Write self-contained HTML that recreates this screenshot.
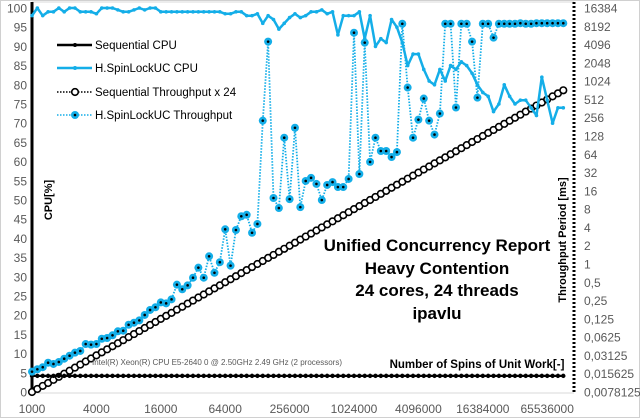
<!DOCTYPE html>
<html><head><meta charset="utf-8"><style>
html,body{margin:0;padding:0;background:#fff}
svg{display:block;font-family:"Liberation Sans",sans-serif}
</style></head><body>
<svg id="chart" width="640" height="418" viewBox="0 0 640 418">
<rect x="0.5" y="0.5" width="639" height="417" fill="#fff" stroke="#d0d0d0"/>
<line x1="32" y1="2" x2="574" y2="2" stroke="#d9d9d9"/>
<g id="axes"></g>
<g id="series"></g>
<g id="texts">
<text x="437" y="251" text-anchor="middle" font-size="17" font-weight="bold">Unified Concurrency Report</text>
<text x="437" y="274" text-anchor="middle" font-size="17" font-weight="bold">Heavy Contention</text>
<text x="437" y="296" text-anchor="middle" font-size="17" font-weight="bold">24 cores, 24 threads</text>
<text x="437" y="319" text-anchor="middle" font-size="17" font-weight="bold">ipavlu</text>
<text x="477" y="368" text-anchor="middle" font-size="11.5" font-weight="bold">Number of Spins of Unit Work[-]</text>
<text x="92" y="365" font-size="8" fill="#595959">Intel(R) Xeon(R) CPU E5-2640 0 @ 2.50GHz   2.49 GHz  (2 processors)</text>
<text transform="translate(52,200) rotate(-90)" text-anchor="middle" font-size="11" font-weight="bold">CPU[%]</text>
<text transform="translate(566,240) rotate(-90)" text-anchor="middle" font-size="11" font-weight="bold">Throughput Period [ms]</text>
</g>
<g id="legend"></g>
</svg>
<script>
const spins=[1000,1122,1260,1414,1587,1782,2000,2245,2520,2828,3175,3564,4000,4490,5040,5657,6350,7127,8000,8980,10079,11314,12699,14254,16000,17959,20159,22627,25398,28509,32000,35919,40318,45255,50797,57018,64000,71838,80635,90510,101594,114035,128000,143675,161270,181019,203187,228070,256000,287350,322540,362039,406375,456140,512000,574701,645080,724077,812749,912280,1024000,1149401,1290160,1448155,1625498,1824560,2048000,2298802,2580320,2896309,3250997,3649121,4096000,4597605,5160641,5792619,6501994,7298242,8192000,9195209,10321281,11585237,13003988,14596484,16384000,18390419,20642562,23170475,26007976,29192967,32768000,36780838,41285124,46340950,52015952,58385935,65536000,73561675,82570249,92681900];
const seqCpu=[4.2,4.2,4.2,4.2,4.2,4.2,4.2,4.2,4.2,4.2,4.2,4.2,4.2,4.2,4.2,4.2,4.2,4.2,4.2,4.2,4.2,4.2,4.2,4.2,4.2,4.2,4.2,4.2,4.2,4.2,4.2,4.2,4.2,4.2,4.2,4.2,4.2,4.2,4.2,4.2,4.2,4.2,4.2,4.2,4.2,4.2,4.2,4.2,4.2,4.2,4.2,4.2,4.2,4.2,4.2,4.2,4.2,4.2,4.2,4.2,4.2,4.2,4.2,4.2,4.2,4.2,4.2,4.2,4.2,4.2,4.2,4.2,4.2,4.2,4.2,4.2,4.2,4.2,4.2,4.2,4.2,4.2,4.2,4.2,4.2,4.2,4.2,4.2,4.2,4.2,4.2,4.2,4.2,4.2,4.2,4.2,4.2,4.2,4.2,4.2];
const spinCpu=[98,100,98,99,99,100,99,100,100,99,99,99,98.5,100,100,100,99.5,99,99,99.5,100,99.5,100,100,99,99,99,99,99,99,99,99,99,99,99,99,98.5,98.5,99,99,98,98,98.5,96,98,97,94.5,96,97.5,98.5,97.5,98,99,99,99.5,98.5,99,93,98,98,98,99,92,98,90,92,91,97,95,91,85,88,88,84,81,80,84,81,85,84,86,85,83,80,78,77,73,75,80,77,75,76,76,74,72,82,76,70,74,74];
const seqThr=[.00781,.00877,.00984,.0110,.0124,.0139,.0156,.0175,.0197,.0221,.0248,.0278,.0313,.0351,.0394,.0442,.0496,.0557,.0625,.0702,.0787,.0884,.0992,.111,.125,.140,.157,.177,.198,.223,.25,.281,.315,.354,.397,.445,.5,.561,.630,.707,.794,.891,1,1.12,1.26,1.41,1.59,1.78,2,2.24,2.52,2.83,3.17,3.56,4,4.49,5.04,5.66,6.35,7.13,8,8.98,10.1,11.3,12.7,14.3,16,18.0,20.2,22.6,25.4,28.5,32,35.9,40.3,45.3,50.8,57.0,64,71.8,80.6,90.5,102,114,128,144,161,181,203,228,256,287,323,362,406,456,512,575,645,724];
const spinThr=[.0169,.0185,.0200,.0237,.0226,.0244,.0276,.0309,.0347,.0370,.0481,.0470,.0481,.0588,.0605,.0670,.0780,.0798,.100,.108,.118,.145,.175,.194,.233,.225,.262,.457,.384,.445,.595,.871,.595,1.34,.717,1.07,3.73,.940,3.63,6.11,6.46,3.27,4.56,229,4580,12.2,8.34,120,11.7,175,8.64,23.3,26.2,20.8,11.3,20.0,22.3,18.5,18.5,25.1,6420,30.3,4410,47.9,120,72.5,72.5,57.7,69.6,9020,803,120,238,530,229,135,300,9020,9020,377,9020,9020,4580,548,9020,9020,5320,9020,9020,9020,9020,9200,9020,9020,9200,9200,9200,9200,9200,9200];
const leftTicks=[0,5,10,15,20,25,30,35,40,45,50,55,60,65,70,75,80,85,90,95,100];
const rightTicks=["0,0078125","0,015625","0,03125","0,0625","0,125","0,25","0,5","1","2","4","8","16","32","64","128","256","512","1024","2048","4096","8192","16384"];
const xTicks=["1000","4000","16000","64000","256000","1024000","4096000","16384000","65536000"];
const xTickVals=[1000,4000,16000,64000,256000,1024000,4096000,16384000,65536000];

const NS="http://www.w3.org/2000/svg";
const X0=32,PXD=32.2,Y0=392,Y1=8;
function xs(v){return X0+Math.log2(v/1000)*PXD;}
function yl(v){return Y0-(v/100)*(Y0-Y1);}
function yr(v){return Y0-Math.log2(v/0.0078125)*((Y0-Y1)/21);}
function mk(tag,attrs,parent){const e=document.createElementNS(NS,tag);for(const k in attrs)e.setAttribute(k,attrs[k]);parent.appendChild(e);return e;}
const axes=document.getElementById('axes'),ser=document.getElementById('series'),leg=document.getElementById('legend');

leftTicks.forEach(t=>{const e=mk('text',{x:27,y:yl(t)+4.5,'text-anchor':'end','font-size':12,fill:'#595959'},axes);e.textContent=t;

});
rightTicks.forEach((t,i)=>{const e=mk('text',{x:584,y:yr(0.0078125*Math.pow(2,i))+4.5,'font-size':12,fill:'#595959'},axes);e.textContent=t;

});
xTicks.forEach((t,i)=>{const e=mk('text',{x:xs(xTickVals[i]),y:413,'text-anchor':'middle','font-size':12,fill:'#595959'},axes);e.textContent=t;

});
let a=mk('line',{x1:X0,y1:Y1-6,x2:X0,y2:Y0+2,stroke:'#000','stroke-width':3},axes);


a=mk('line',{x1:574,y1:Y1-6,x2:574,y2:Y0+2,stroke:'#000','stroke-width':3,'stroke-dasharray':'2,2'},axes);


a=mk('line',{x1:X0,y1:Y0+1,x2:574,y2:Y0+1,stroke:'#d9d9d9','stroke-width':1},axes);



const BLUE='#14AEE8';
function pts(vals,yf){return vals.map((v,i)=>xs(spins[i]).toFixed(1)+','+yf(v).toFixed(1)).join(' ');}
// sequential throughput
let p=mk('polyline',{points:pts(seqThr,yr),fill:'none',stroke:'#000','stroke-width':1.3,'stroke-dasharray':'1.5,1.5'},ser);


seqThr.forEach((v,i)=>{const c=mk('circle',{cx:xs(spins[i]),cy:yr(v),r:3.3,fill:'#fff',stroke:'#000','stroke-width':1.6},ser);

});
// sequential cpu
p=mk('polyline',{points:pts(seqCpu,yl),fill:'none',stroke:'#000','stroke-width':2.2},ser);


seqCpu.forEach((v,i)=>{const c=mk('circle',{cx:xs(spins[i]),cy:yl(v),r:2.2,fill:'#000'},ser);

});
// spin throughput
p=mk('polyline',{points:pts(spinThr,yr),fill:'none',stroke:BLUE,'stroke-width':1.8,'stroke-dasharray':'1.5,1.5'},ser);


spinThr.forEach((v,i)=>{const c=mk('circle',{cx:xs(spins[i]),cy:yr(v),r:4,fill:BLUE},ser);


const d=mk('circle',{cx:xs(spins[i]),cy:yr(v),r:1.3,fill:'#000'},ser);

});
// spin cpu
p=mk('polyline',{points:pts(spinCpu,yl),fill:'none',stroke:BLUE,'stroke-width':2.5,'stroke-linejoin':'round'},ser);


spinCpu.forEach((v,i)=>{const c=mk('circle',{cx:xs(spins[i]),cy:yl(v),r:1.8,fill:BLUE},ser);

});

// legend
const L=[["Sequential CPU","#000",false,"seq-cpu"],["H.SpinLockUC CPU",BLUE,false,"spin-cpu"],["Sequential Throughput x 24","#000",true,"seq-thr"],["H.SpinLockUC Throughput",BLUE,true,"spin-thr"]];
L.forEach((l,i)=>{const y=[45,68,92,115][i];
const g=mk('g',{},leg);


mk('line',{x1:57,y1:y,x2:92,y2:y,stroke:l[1],'stroke-width':l[2]?1.6:2.5,'stroke-dasharray':l[2]?'1.5,1.5':'none'},g);
if(i===0)mk('circle',{cx:75,cy:y,r:2,fill:'#000'},g);
if(i===1)mk('circle',{cx:75,cy:y,r:2,fill:BLUE},g);
if(i===2)mk('circle',{cx:75,cy:y,r:3.3,fill:'#fff',stroke:'#000','stroke-width':1.6},g);
if(i===3){mk('circle',{cx:75,cy:y,r:4,fill:BLUE},g);mk('circle',{cx:75,cy:y,r:1.3,fill:'#000'},g);}
const t=mk('text',{x:95,y:y+4,'font-size':11.5,fill:'#000'},g);t.textContent=l[0];});
</script>
</body></html>
